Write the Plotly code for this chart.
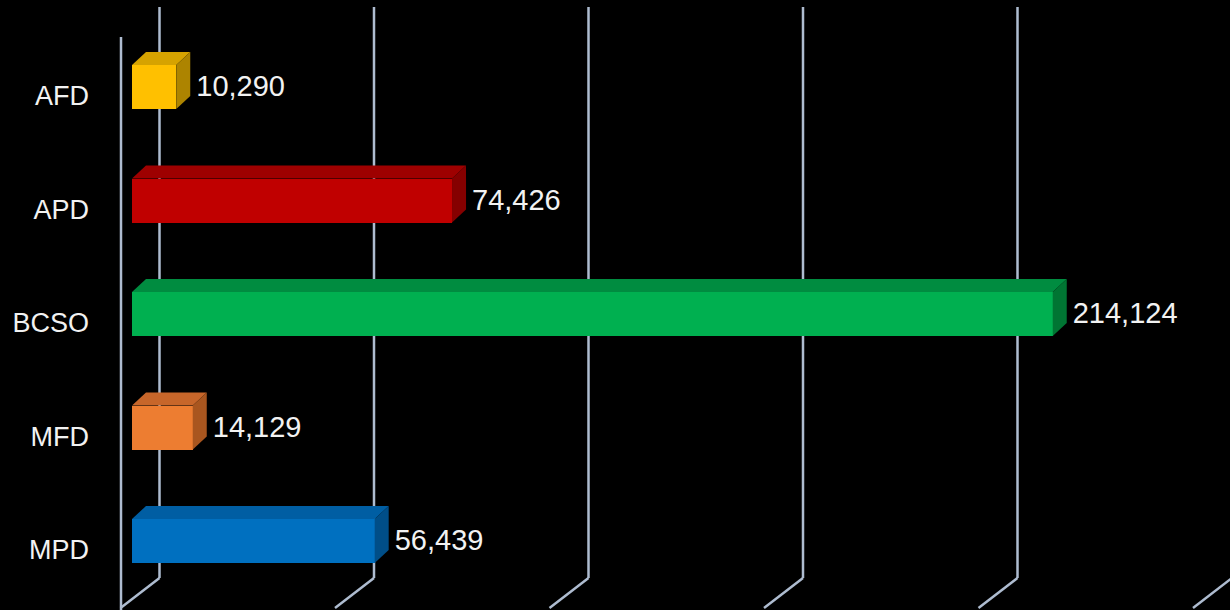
import plotly.graph_objects as go

# ---- data ----
categories = ["AFD", "APD", "BCSO", "MFD", "MPD"]
values = [10290, 74426, 214124, 14129, 56439]
front_colors = ["#FFC000", "#C00000", "#00B050", "#ED7D31", "#0070C0"]
top_colors = ["#D6A300", "#9E0000", "#008C40", "#C7662A", "#005EA3"]
side_colors = ["#AD8400", "#850000", "#007533", "#A9561F", "#004E88"]
grid_values = [0, 50000, 100000, 150000, 200000, 250000]

# ---- geometry (pixel-based layout constants) ----
W, H = 1230, 610
ML = 100
K = 0.0043            # pixels per value unit (front plane)
KB = 0.00429          # pixels per value unit (back wall, slight perspective)
PX0 = 120             # pixel of value 0 on front floor edge
X0 = -(PX0 - ML) / K
X1 = (W - PX0) / K
ROW = 113.5           # pixels per category
Y0PX = 87             # pixel of first category centre
Y_RANGE = [(H - Y0PX) / ROW, -Y0PX / ROW]


def ux(px):
    return (px - PX0) / K


def uy(py):
    return (py - Y0PX) / ROW


BASE = ux(132)                 # front face start
DX = 14 / K                    # depth offset (x)
DY = -13 / ROW                 # depth offset (y)
BW = 44 / ROW                  # bar thickness

grid_color = "#AEBCD0"
shapes = []
for v in grid_values:
    xb = 159.5 + v * KB
    shapes.append(dict(type="line", xref="x", yref="y", layer="below",
                       x0=ux(xb), x1=ux(xb), y0=uy(7), y1=uy(578),
                       line=dict(color=grid_color, width=2.5)))
    shapes.append(dict(type="line", xref="x", yref="y", layer="below",
                       x0=ux(xb), x1=ux(xb - 39), y0=uy(578), y1=uy(608),
                       line=dict(color=grid_color, width=2.5)))
shapes.append(dict(type="line", xref="x", yref="y", layer="below",
                   x0=ux(121), x1=ux(121), y0=uy(37), y1=uy(610),
                   line=dict(color=grid_color, width=2.5)))

fig = go.Figure()
ys = list(range(len(categories)))

fig.add_trace(go.Bar(
    orientation="h", y=ys, x=values, base=[BASE] * len(values),
    width=BW, marker=dict(color=front_colors, line=dict(width=0)),
    showlegend=False, hoverinfo="skip"))

for i, v in enumerate(values):
    yt = i - BW / 2
    yb = i + BW / 2
    xe = BASE + v
    # top face
    fig.add_trace(go.Scatter(
        x=[BASE, BASE + DX, xe + DX, xe, BASE],
        y=[yt, yt + DY, yt + DY, yt, yt],
        fill="toself", fillcolor=top_colors[i], mode="lines",
        line=dict(width=0, color=top_colors[i]), showlegend=False, hoverinfo="skip"))
    # side face
    fig.add_trace(go.Scatter(
        x=[xe, xe + DX, xe + DX, xe, xe],
        y=[yt, yt + DY, yb + DY, yb, yt],
        fill="toself", fillcolor=side_colors[i], mode="lines",
        line=dict(width=0, color=side_colors[i]), showlegend=False, hoverinfo="skip"))

# data labels
fig.add_trace(go.Scatter(
    x=[BASE + v + DX + 6 / K for v in values], y=[i + 2 / ROW for i in ys],
    mode="text", text=[f"{v:,}" for v in values], textposition="middle right",
    textfont=dict(family="Liberation Sans, Arial, sans-serif", size=29, color="#F2F2F2"),
    showlegend=False, hoverinfo="skip", cliponaxis=False))

fig.update_layout(
    width=W, height=H, autosize=False,
    margin=dict(l=ML, r=0, t=0, b=0),
    paper_bgcolor="#000000", plot_bgcolor="#000000",
    shapes=shapes,
    bargap=0,
    xaxis=dict(range=[X0, X1], showgrid=False, zeroline=False, showticklabels=False,
               showline=False, ticks=""),
    yaxis=dict(range=Y_RANGE, showgrid=False, zeroline=False, showline=False,
               tickmode="array", tickvals=[i + 0.076 for i in ys], ticktext=categories,
               ticks="", ticklabelstandoff=10,
               tickfont=dict(family="Liberation Sans, Arial, sans-serif", size=27, color="#F2F2F2")),
)

fig.write_html(
    "out.html",
    config={"displayModeBar": False},
    post_script="document.body.style.margin='0';document.body.style.background='#000';",
)
